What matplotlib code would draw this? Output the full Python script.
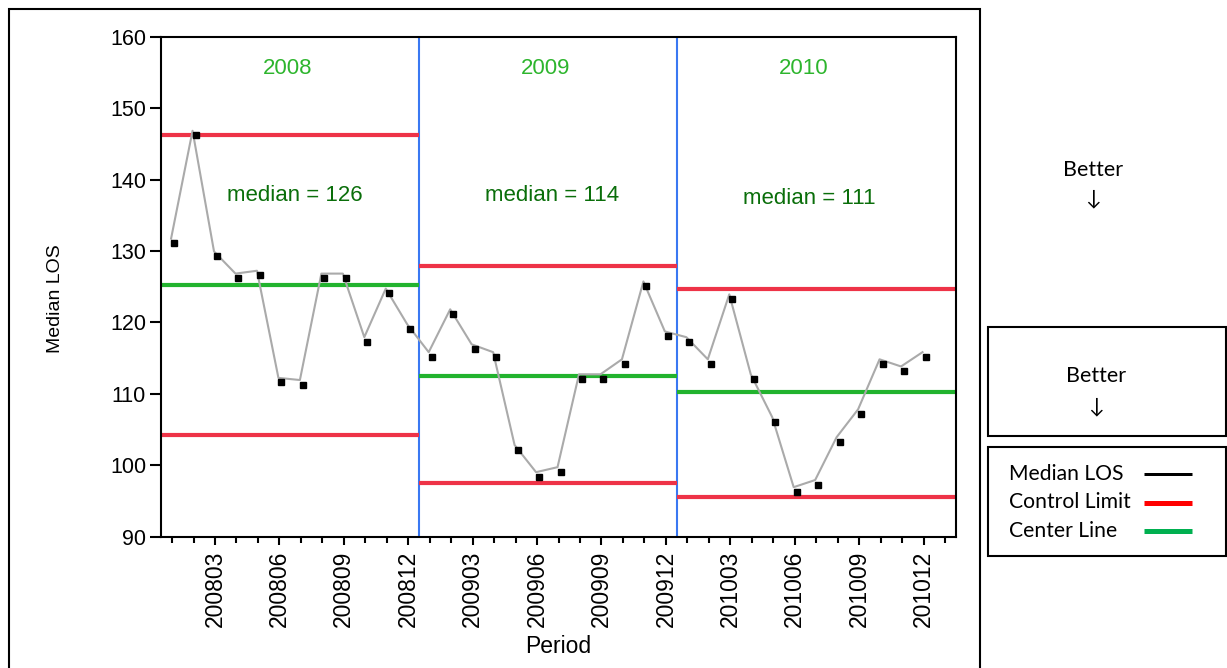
import numpy as np
import matplotlib.pyplot as plt
from matplotlib.transforms import offset_copy
from matplotlib.patches import Rectangle
from matplotlib.lines import Line2D

plt.rcParams['font.family'] = ['Liberation Sans', 'DejaVu Sans']

# monthly median length of stay, 2008-01 .. 2010-12
median_los = [131.1, 146.2, 129.3, 126.2, 126.6, 111.6, 111.3, 126.2, 126.2, 117.3, 124.1, 119.1,
              115.2, 121.2, 116.3, 115.2, 102.2, 98.4, 99.1, 112.1, 112.1, 114.2, 125.1, 118.1,
              117.3, 114.2, 123.3, 112.1, 106.1, 96.3, 97.3, 103.3, 107.2, 114.2, 113.2, 115.2]
tick_labels = ["200803", "200806", "200809", "200812", "200903", "200906",
               "200909", "200912", "201003", "201006", "201009", "201012"]
years = ["2008", "2009", "2010"]
year_medians = [126, 114, 111]
center_line = [125.2, 112.5, 110.2]
upper_limit = [146.3, 127.9, 124.7]
lower_limit = [104.2, 97.5, 95.6]

fig = plt.figure(figsize=(12.27, 6.68), dpi=100)
ax = fig.add_axes([0.1315, 0.1966, 0.6474, 0.7485])

x = np.arange(1, len(median_los) + 1)
line_tr = offset_copy(ax.transData, fig=fig, x=-1, y=4.5, units='dots')
mark_tr = offset_copy(ax.transData, fig=fig, x=2, y=0, units='dots')
ax.plot(x, median_los, color='#aaaaaa', lw=1.5, transform=line_tr, zorder=3)
ax.plot(x, median_los, ls='none', marker='s', ms=4.3, color='black', transform=mark_tr, zorder=4)

bounds = [0.5, 12.5, 24.5, 37.5]
for i in range(3):
    x0, x1 = bounds[i], bounds[i + 1]
    ax.plot([x0, x1], [upper_limit[i]] * 2, color='#ee3347', lw=3, zorder=2, solid_capstyle='butt')
    ax.plot([x0, x1], [lower_limit[i]] * 2, color='#ee3347', lw=3, zorder=2, solid_capstyle='butt')
    ax.plot([x0, x1], [center_line[i]] * 2, color='#22b32e', lw=3, zorder=2, solid_capstyle='butt')
    mid = (x0 + min(x1, 36.5)) / 2
    ax.text(mid - 0.1, 155.6, years[i], color='#2db52d', fontsize=16, ha='center', va='center')
    ax.text(mid + 0.2, 137.8 if i < 2 else 137.3, "median = %d" % year_medians[i],
            color='#0a6e0a', fontsize=16, ha='center', va='center')

for b in bounds[1:3]:
    ax.axvline(b, color='#3a78f2', lw=1.5, zorder=1)

ax.set_xlim(0.5, 37.5)
ax.set_ylim(90, 160)
ax.set_yticks(np.arange(90, 161, 10))
ax.set_xticks(np.arange(3, 37, 3))
ax.set_xticklabels(tick_labels, rotation=90)
ax.set_xticks(np.arange(1, 38), minor=True)
ax.tick_params(axis='y', length=8, width=1.5, labelsize=15.5, pad=3)
ax.tick_params(axis='x', which='major', length=6, width=1.5, labelsize=16.5, pad=4)
ax.tick_params(axis='x', which='minor', length=4, width=1.5)
for s in ax.spines.values():
    s.set_linewidth(1.5)
ax.set_xlabel("Period", fontsize=16.5, labelpad=6)
ax.set_ylabel("Median LOS", fontsize=14)
ax.yaxis.set_label_coords(-0.1225, 0.477)

# outer frame around the chart
fig.patches.append(Rectangle((9 / 1227, -0.05), (980 - 9) / 1227, 1.05 - 9 / 668,
                             transform=fig.transFigure, fill=False, lw=1.5, ec='black'))

rfont = ['Lato', 'DejaVu Sans']
fig.text(1093 / 1227, 1 - 170 / 668, "Better", fontsize=15.5, ha='center', va='center', family=rfont)
fig.text(1093 / 1227, 1 - 198 / 668, "\u2193", fontsize=15, ha='center', va='center', family=rfont)

def fbox(x0, y0, x1, y1):
    fig.patches.append(Rectangle((x0 / 1227, 1 - y1 / 668), (x1 - x0) / 1227, (y1 - y0) / 668,
                                 transform=fig.transFigure, fill=False, lw=1.5, ec='black'))

fbox(988, 327, 1226, 436)
fig.text(1096 / 1227, 1 - 376 / 668, "Better", fontsize=15.5, ha='center', va='center', family=rfont)
fig.text(1096 / 1227, 1 - 406 / 668, "\u2193", fontsize=15, ha='center', va='center', family=rfont)

fbox(988, 447, 1226, 556)
legend_items = [("Median LOS", 'black', 3), ("Control Limit", '#ff0000', 5), ("Center Line", '#00b050', 5)]
for k, (lab, col, w) in enumerate(legend_items):
    yy = 1 - (474 + 28.5 * k) / 668
    fig.text(1009 / 1227, yy, lab, fontsize=15.2, ha='left', va='center', family=rfont)
    fig.lines.append(Line2D([1144 / 1227, 1192 / 1227], [yy, yy], transform=fig.transFigure,
                            color=col, lw=w * 0.72, solid_capstyle='butt'))

fig.savefig("out.png", dpi=100)
